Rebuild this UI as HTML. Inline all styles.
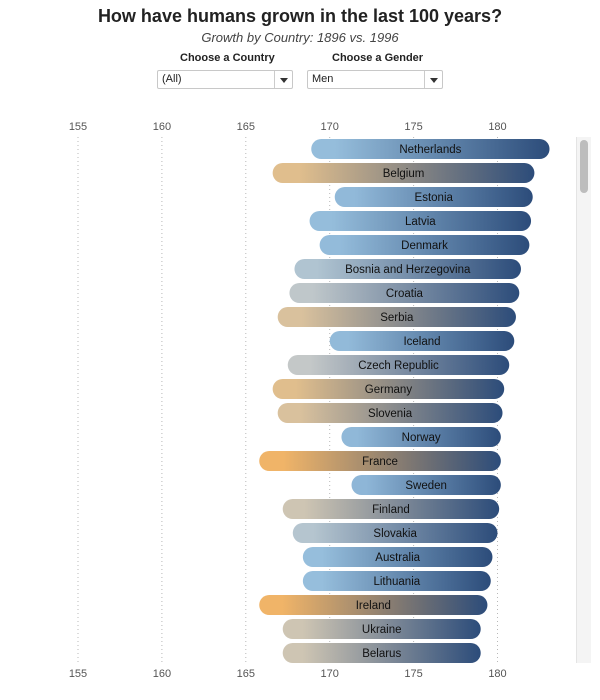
<!DOCTYPE html>
<html><head><meta charset="utf-8"><style>
body{margin:0;background:#fff;font-family:"Liberation Sans",sans-serif;}
#wrap{position:relative;width:600px;height:700px;overflow:hidden;}
.t{position:absolute;white-space:nowrap;}
.dd{position:absolute;height:19px;border:1px solid #c8c8c8;border-radius:2px;background:#fff;font-size:11px;color:#222;box-sizing:border-box;line-height:17px;padding-left:4px;}
.dd .arr{position:absolute;right:0;top:0;width:17px;height:17px;border-left:1px solid #ccc;}
.dd .arr:after{content:"";position:absolute;left:5px;top:7px;border-left:4px solid transparent;border-right:4px solid transparent;border-top:5px solid #333;}
</style></head><body>
<div id="wrap">
<div class="t" style="left:0;width:600px;text-align:center;top:6px;font-size:18px;font-weight:bold;color:#222;">How have humans grown in the last 100 years?</div>
<div class="t" style="left:0;width:600px;text-align:center;top:30px;font-size:13px;font-style:italic;color:#444;">Growth by Country: 1896 vs. 1996</div>
<div class="t" style="left:180px;top:52px;font-size:11px;font-weight:bold;color:#222;">Choose a Country</div>
<div class="t" style="left:332px;top:52px;font-size:11px;font-weight:bold;color:#222;">Choose a Gender</div>
<div class="dd" style="left:157px;top:70px;width:136px;">(All)<span class="arr"></span></div>
<div class="dd" style="left:307px;top:70px;width:136px;">Men<span class="arr"></span></div>
<div style="position:absolute;left:576px;top:137px;width:14px;height:526px;background:#f4f4f4;border-left:1px solid #e4e4e4;">
<div style="position:absolute;left:3px;top:3px;width:8px;height:53px;background:#bdbdbd;border-radius:4px;"></div></div>
<svg id="chart" width="600" height="700" style="position:absolute;left:0;top:0"></svg>
</div>
<script>
const countries=["Netherlands","Belgium","Estonia","Latvia","Denmark","Bosnia and Herzegovina","Croatia","Serbia","Iceland","Czech Republic","Germany","Slovenia","Norway","France","Sweden","Finland","Slovakia","Australia","Lithuania","Ireland","Ukraine","Belarus"];
const height1896=[168.9,166.6,170.3,168.8,169.4,167.9,167.6,166.9,170.0,167.5,166.6,166.9,170.7,165.8,171.3,167.2,167.8,168.4,168.4,165.8,167.2,167.2];
const height1996=[183.1,182.2,182.1,182.0,181.9,181.4,181.3,181.1,181.0,180.7,180.4,180.3,180.2,180.2,180.2,180.1,180.0,179.7,179.6,179.4,179.0,179.0];
const ticks=[155,160,165,170,175,180];
const NS="http://www.w3.org/2000/svg";
const svg=document.getElementById('chart');
const x=v=>78+(v-155)*16.78;
const y=i=>149+i*24;
function el(t,a){const e=document.createElementNS(NS,t);for(const k in a)e.setAttribute(k,a[k]);return e;}
function lerp(a,b,t){return a.map((v,i)=>Math.round(v+(b[i]-v)*t));}
function startColor(v){
  const stops=[[165.8,[240,180,104]],[166.8,[220,192,150]],[167.5,[196,200,200]],[168.4,[150,190,220]],[172,[140,180,214]]];
  if(v<=stops[0][0])return stops[0][1];
  for(let i=1;i<stops.length;i++){if(v<=stops[i][0]){const t=(v-stops[i-1][0])/(stops[i][0]-stops[i-1][0]);return lerp(stops[i-1][1],stops[i][1],t);}}
  return stops[stops.length-1][1];
}
const defs=el('defs',{});svg.appendChild(defs);
const clip=el('clipPath',{id:'plotclip'});clip.appendChild(el('rect',{x:0,y:137,width:575,height:526}));defs.appendChild(clip);
ticks.forEach(t=>{
  const g=el('line',{x1:x(t),x2:x(t),y1:137,y2:663,stroke:'#b8b8b8','stroke-dasharray':'1,3'});
  
  
  svg.appendChild(g);
  [126,673].forEach((yy,j)=>{
    const tx=el('text',{x:x(t),y:yy+4,'text-anchor':'middle','font-size':'11','fill':'#555','font-family':'Liberation Sans, sans-serif'});
    tx.textContent=t;
    
    
    svg.appendChild(tx);
  });
});
const plot=el('g',{'clip-path':'url(#plotclip)'});svg.appendChild(plot);
countries.forEach((c,i)=>{
  const s=startColor(height1896[i]);
  const gid='gr'+i;
  const gr=el('linearGradient',{id:gid,x1:'0',x2:'1',y1:'0',y2:'0'});
  gr.appendChild(el('stop',{offset:'0','stop-color':`rgb(${s})`}));
  gr.appendChild(el('stop',{offset:'0.1','stop-color':`rgb(${s})`}));
  gr.appendChild(el('stop',{offset:'1','stop-color':'#2c4c7a'}));
  defs.appendChild(gr);
  const x0=x(height1896[i]),x1=x(height1996[i]);
  const r=el('rect',{x:x0,y:y(i)-10,width:x1-x0,height:20,rx:10,ry:10,fill:`url(#${gid})`});
  
  
  plot.appendChild(r);
  const tx=el('text',{x:(x0+x1)/2,y:y(i)+4,'text-anchor':'middle','font-size':'11.5','fill':'#111','font-family':'Liberation Sans, sans-serif'});
  tx.textContent=c;
  
  
  plot.appendChild(tx);
});
</script>
</body></html>
